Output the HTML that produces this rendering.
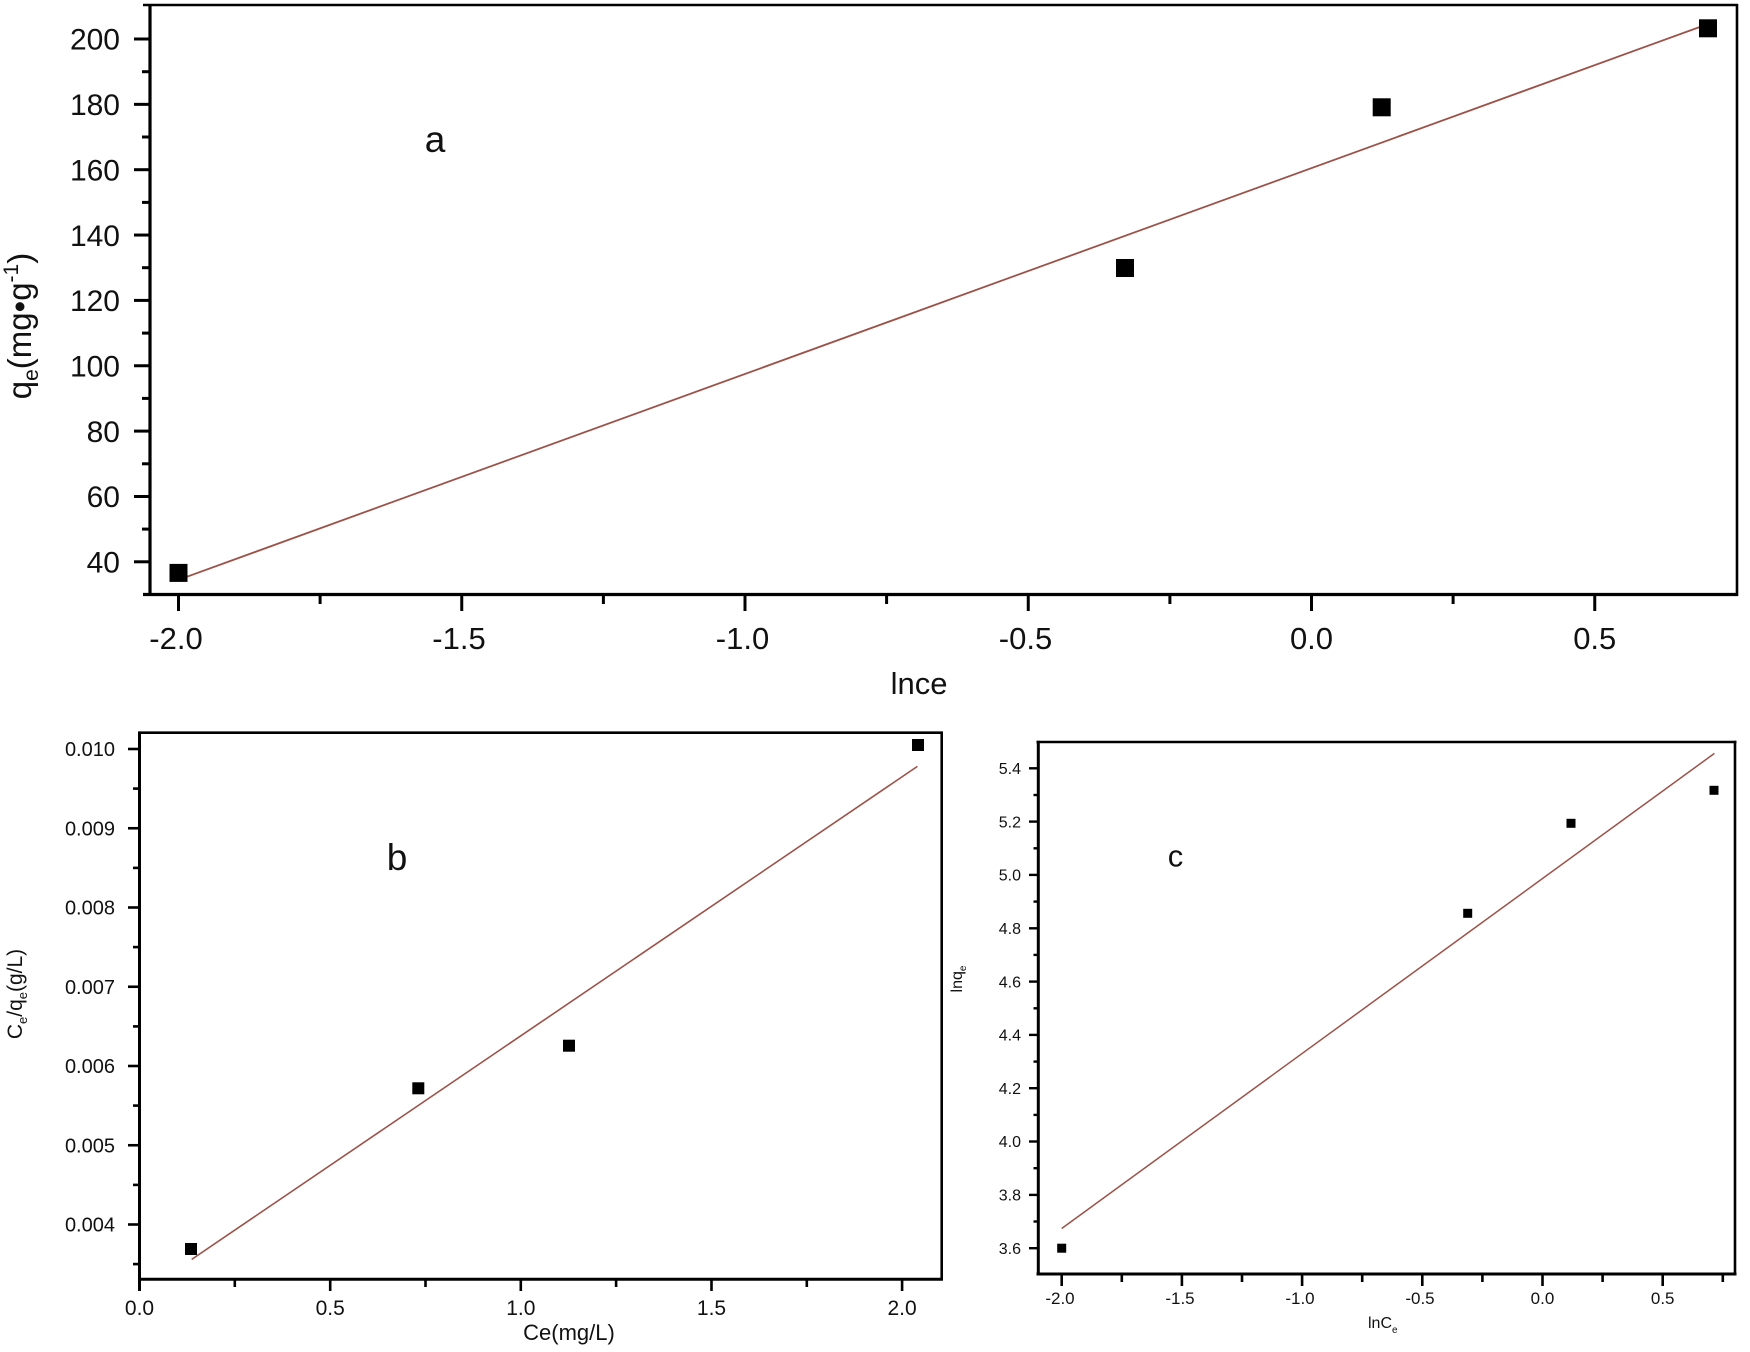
<!DOCTYPE html>
<html>
<head>
<meta charset="utf-8">
<style>
html,body{margin:0;padding:0;background:#fff;}
svg{display:block;}
text{font-family:"Liberation Sans",Arial,sans-serif;fill:#111;}
</style>
</head>
<body>
<svg width="1750" height="1352" viewBox="0 0 1750 1352" xmlns="http://www.w3.org/2000/svg">
<rect width="1750" height="1352" fill="#fff"/>

<!-- ================= PANEL A ================= -->
<g stroke="#000" fill="none">
  <line x1="143" y1="5" x2="1738" y2="5" stroke-width="2.6"/>
  <line x1="1737" y1="4" x2="1737" y2="596" stroke-width="2.6"/>
  <line x1="150" y1="4" x2="150" y2="596" stroke-width="3.2"/>
  <line x1="143" y1="594.5" x2="1738" y2="594.5" stroke-width="3.2"/>
  <!-- x major ticks -->
  <g stroke-width="3">
    <line x1="178.5" y1="594" x2="178.5" y2="611"/>
    <line x1="461.75" y1="594" x2="461.75" y2="611"/>
    <line x1="745" y1="594" x2="745" y2="611"/>
    <line x1="1028.25" y1="594" x2="1028.25" y2="611"/>
    <line x1="1311.5" y1="594" x2="1311.5" y2="611"/>
    <line x1="1594.75" y1="594" x2="1594.75" y2="611"/>
  </g>
  <g stroke-width="3">
    <line x1="320.1" y1="594" x2="320.1" y2="604"/>
    <line x1="603.4" y1="594" x2="603.4" y2="604"/>
    <line x1="886.6" y1="594" x2="886.6" y2="604"/>
    <line x1="1169.9" y1="594" x2="1169.9" y2="604"/>
    <line x1="1453.1" y1="594" x2="1453.1" y2="604"/>
  </g>
  <!-- y major ticks -->
  <g stroke-width="3">
    <line x1="134" y1="561.8" x2="150" y2="561.8"/>
    <line x1="134" y1="496.5" x2="150" y2="496.5"/>
    <line x1="134" y1="431.1" x2="150" y2="431.1"/>
    <line x1="134" y1="365.75" x2="150" y2="365.75"/>
    <line x1="134" y1="300.4" x2="150" y2="300.4"/>
    <line x1="134" y1="235.05" x2="150" y2="235.05"/>
    <line x1="134" y1="169.7" x2="150" y2="169.7"/>
    <line x1="134" y1="104.35" x2="150" y2="104.35"/>
    <line x1="134" y1="39" x2="150" y2="39"/>
  </g>
  <g stroke-width="3">
    <line x1="142" y1="529.1" x2="150" y2="529.1"/>
    <line x1="142" y1="463.8" x2="150" y2="463.8"/>
    <line x1="142" y1="398.4" x2="150" y2="398.4"/>
    <line x1="142" y1="333.1" x2="150" y2="333.1"/>
    <line x1="142" y1="267.7" x2="150" y2="267.7"/>
    <line x1="142" y1="202.4" x2="150" y2="202.4"/>
    <line x1="142" y1="137" x2="150" y2="137"/>
    <line x1="142" y1="71.7" x2="150" y2="71.7"/>
  </g>
</g>
<!-- fit line a -->
<line x1="178.5" y1="579.8" x2="1708" y2="24" stroke="#9c5248" stroke-width="1.8"/>
<!-- points a -->
<g fill="#000">
  <rect x="169.5" y="563.9" width="18" height="18"/>
  <rect x="1116" y="259" width="18" height="18"/>
  <rect x="1372.7" y="98.3" width="18" height="18"/>
  <rect x="1699" y="19.3" width="18" height="18"/>
</g>
<!-- tick labels a -->
<g font-size="30" text-anchor="end">
  <text x="120" y="572.5">40</text>
  <text x="120" y="507.2">60</text>
  <text x="120" y="441.8">80</text>
  <text x="120" y="376.5">100</text>
  <text x="120" y="311.1">120</text>
  <text x="120" y="245.8">140</text>
  <text x="120" y="180.4">160</text>
  <text x="120" y="115.1">180</text>
  <text x="120" y="49.7">200</text>
</g>
<g font-size="31" text-anchor="middle">
  <text x="176" y="649">-2.0</text>
  <text x="459" y="649">-1.5</text>
  <text x="742.5" y="649">-1.0</text>
  <text x="1025.5" y="649">-0.5</text>
  <text x="1311.5" y="649">0.0</text>
  <text x="1594.75" y="649">0.5</text>
</g>
<text x="919" y="694" font-size="31" text-anchor="middle">lnce</text>
<text x="435" y="152" font-size="37" text-anchor="middle">a</text>
<text transform="translate(31,326) rotate(-90)" font-size="33" text-anchor="middle">q<tspan font-size="21" dy="7">e</tspan><tspan dy="-7">(mg•g</tspan><tspan font-size="21" dy="-13">-1</tspan><tspan dy="13">)</tspan></text>

<!-- ================= PANEL B ================= -->
<g stroke="#000" fill="none">
  <line x1="138" y1="732.7" x2="943" y2="732.7" stroke-width="2.6"/>
  <line x1="941.7" y1="731.5" x2="941.7" y2="1280.5" stroke-width="2.6"/>
  <line x1="139.5" y1="731.5" x2="139.5" y2="1291" stroke-width="3"/>
  <line x1="138" y1="1279.3" x2="943" y2="1279.3" stroke-width="3"/>
  <g stroke-width="2.6">
    <line x1="330.2" y1="1279" x2="330.2" y2="1291"/>
    <line x1="520.8" y1="1279" x2="520.8" y2="1291"/>
    <line x1="711.5" y1="1279" x2="711.5" y2="1291"/>
    <line x1="902.1" y1="1279" x2="902.1" y2="1291"/>
    <line x1="234.8" y1="1279" x2="234.8" y2="1287"/>
    <line x1="425.5" y1="1279" x2="425.5" y2="1287"/>
    <line x1="616.1" y1="1279" x2="616.1" y2="1287"/>
    <line x1="806.8" y1="1279" x2="806.8" y2="1287"/>
  </g>
  <g stroke-width="2.6">
    <line x1="128" y1="749" x2="139.5" y2="749"/>
    <line x1="128" y1="828.25" x2="139.5" y2="828.25"/>
    <line x1="128" y1="907.5" x2="139.5" y2="907.5"/>
    <line x1="128" y1="986.75" x2="139.5" y2="986.75"/>
    <line x1="128" y1="1066" x2="139.5" y2="1066"/>
    <line x1="128" y1="1145.25" x2="139.5" y2="1145.25"/>
    <line x1="128" y1="1224.5" x2="139.5" y2="1224.5"/>
    <line x1="133" y1="788.6" x2="139.5" y2="788.6"/>
    <line x1="133" y1="867.9" x2="139.5" y2="867.9"/>
    <line x1="133" y1="947.1" x2="139.5" y2="947.1"/>
    <line x1="133" y1="1026.4" x2="139.5" y2="1026.4"/>
    <line x1="133" y1="1105.6" x2="139.5" y2="1105.6"/>
    <line x1="133" y1="1184.9" x2="139.5" y2="1184.9"/>
    <line x1="133" y1="1264.1" x2="139.5" y2="1264.1"/>
  </g>
</g>
<line x1="191.7" y1="1259.4" x2="917.4" y2="766.4" stroke="#9c5248" stroke-width="1.6"/>
<g fill="#000">
  <rect x="185" y="1243" width="12" height="12"/>
  <rect x="412.3" y="1082.3" width="12" height="12"/>
  <rect x="563" y="1039.7" width="12" height="12"/>
  <rect x="912" y="739" width="12" height="12"/>
</g>
<g font-size="20" text-anchor="end" fill="#1a1a1a">
  <text x="115" y="756">0.010</text>
  <text x="115" y="835.3">0.009</text>
  <text x="115" y="914.5">0.008</text>
  <text x="115" y="993.8">0.007</text>
  <text x="115" y="1073">0.006</text>
  <text x="115" y="1152.3">0.005</text>
  <text x="115" y="1231.5">0.004</text>
</g>
<g font-size="21" text-anchor="middle" fill="#1a1a1a">
  <text x="139.5" y="1315">0.0</text>
  <text x="330.2" y="1315">0.5</text>
  <text x="520.8" y="1315">1.0</text>
  <text x="711.5" y="1315">1.5</text>
  <text x="902.1" y="1315">2.0</text>
</g>
<text x="569" y="1340" font-size="22" text-anchor="middle" fill="#1a1a1a">Ce(mg/L)</text>
<text transform="translate(22,994) rotate(-90)" font-size="21" text-anchor="middle" fill="#1a1a1a">C<tspan font-size="13" dy="5">e</tspan><tspan dy="-5">/q</tspan><tspan font-size="13" dy="5">e</tspan><tspan dy="-5">(g/L)</tspan></text>
<text x="397" y="870" font-size="37" text-anchor="middle">b</text>

<!-- ================= PANEL C ================= -->
<g stroke="#000" fill="none">
  <line x1="1036.5" y1="742" x2="1736.5" y2="742" stroke-width="2.6"/>
  <line x1="1735" y1="740.7" x2="1735" y2="1275.5" stroke-width="2.6"/>
  <line x1="1038.3" y1="740.7" x2="1038.3" y2="1275.5" stroke-width="3"/>
  <line x1="1036.5" y1="1274" x2="1736.5" y2="1274" stroke-width="3"/>
  <g stroke-width="2.6">
    <line x1="1061.7" y1="1274" x2="1061.7" y2="1286"/>
    <line x1="1181.9" y1="1274" x2="1181.9" y2="1286"/>
    <line x1="1302.1" y1="1274" x2="1302.1" y2="1286"/>
    <line x1="1422.3" y1="1274" x2="1422.3" y2="1286"/>
    <line x1="1542.5" y1="1274" x2="1542.5" y2="1286"/>
    <line x1="1662.7" y1="1274" x2="1662.7" y2="1286"/>
    <line x1="1121.8" y1="1274" x2="1121.8" y2="1282"/>
    <line x1="1242" y1="1274" x2="1242" y2="1282"/>
    <line x1="1362.2" y1="1274" x2="1362.2" y2="1282"/>
    <line x1="1482.4" y1="1274" x2="1482.4" y2="1282"/>
    <line x1="1602.6" y1="1274" x2="1602.6" y2="1282"/>
    <line x1="1722.8" y1="1274" x2="1722.8" y2="1282"/>
  </g>
  <g stroke-width="2.4">
    <line x1="1029" y1="768.3" x2="1038.3" y2="768.3"/>
    <line x1="1029" y1="821.6" x2="1038.3" y2="821.6"/>
    <line x1="1029" y1="874.9" x2="1038.3" y2="874.9"/>
    <line x1="1029" y1="928.3" x2="1038.3" y2="928.3"/>
    <line x1="1029" y1="981.6" x2="1038.3" y2="981.6"/>
    <line x1="1029" y1="1034.9" x2="1038.3" y2="1034.9"/>
    <line x1="1029" y1="1088.2" x2="1038.3" y2="1088.2"/>
    <line x1="1029" y1="1141.5" x2="1038.3" y2="1141.5"/>
    <line x1="1029" y1="1194.9" x2="1038.3" y2="1194.9"/>
    <line x1="1029" y1="1248.2" x2="1038.3" y2="1248.2"/>
    <line x1="1033.5" y1="795" x2="1038.3" y2="795"/>
    <line x1="1033.5" y1="848.3" x2="1038.3" y2="848.3"/>
    <line x1="1033.5" y1="901.6" x2="1038.3" y2="901.6"/>
    <line x1="1033.5" y1="954.9" x2="1038.3" y2="954.9"/>
    <line x1="1033.5" y1="1008.3" x2="1038.3" y2="1008.3"/>
    <line x1="1033.5" y1="1061.6" x2="1038.3" y2="1061.6"/>
    <line x1="1033.5" y1="1114.9" x2="1038.3" y2="1114.9"/>
    <line x1="1033.5" y1="1168.2" x2="1038.3" y2="1168.2"/>
    <line x1="1033.5" y1="1221.5" x2="1038.3" y2="1221.5"/>
  </g>
</g>
<line x1="1061.7" y1="1228.5" x2="1714.4" y2="753.4" stroke="#9c5248" stroke-width="1.5"/>
<g fill="#000">
  <rect x="1057.2" y="1243.7" width="9" height="9"/>
  <rect x="1463.2" y="908.8" width="9" height="9"/>
  <rect x="1566.5" y="818.8" width="9" height="9"/>
  <rect x="1709.5" y="785.8" width="9" height="9"/>
</g>
<g font-size="16" text-anchor="end" fill="#222">
  <text x="1021" y="774">5.4</text>
  <text x="1021" y="827.3">5.2</text>
  <text x="1021" y="880.6">5.0</text>
  <text x="1021" y="934">4.8</text>
  <text x="1021" y="987.3">4.6</text>
  <text x="1021" y="1040.6">4.4</text>
  <text x="1021" y="1093.9">4.2</text>
  <text x="1021" y="1147.2">4.0</text>
  <text x="1021" y="1200.6">3.8</text>
  <text x="1021" y="1253.9">3.6</text>
</g>
<g font-size="17" text-anchor="middle" fill="#222">
  <text x="1060" y="1304">-2.0</text>
  <text x="1180" y="1304">-1.5</text>
  <text x="1300" y="1304">-1.0</text>
  <text x="1420" y="1304">-0.5</text>
  <text x="1542.5" y="1304">0.0</text>
  <text x="1662.7" y="1304">0.5</text>
</g>
<text x="1368" y="1328" font-size="16" fill="#222">lnC<tspan font-size="10" dy="5">e</tspan></text>
<text transform="translate(962,979) rotate(-90)" font-size="16" text-anchor="middle" fill="#222">lnq<tspan font-size="10" dy="4">e</tspan></text>
<text x="1175.5" y="866.7" font-size="31" text-anchor="middle">c</text>
</svg>
</body>
</html>
